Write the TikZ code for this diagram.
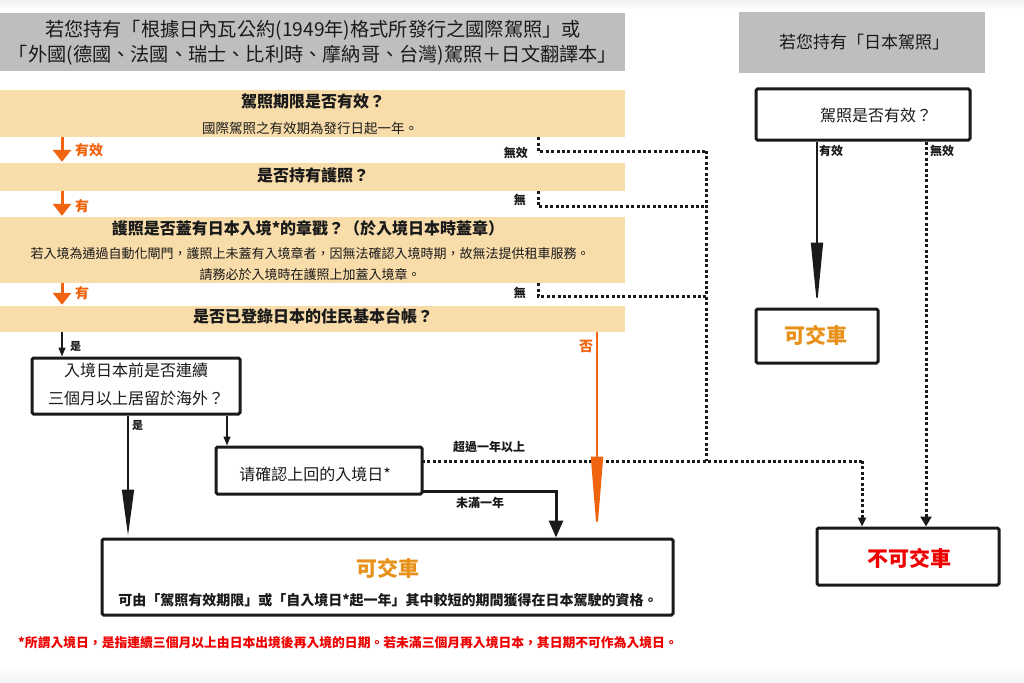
\documentclass[tikz,border=0pt]{standalone}
\usepackage{fontspec}
\setmainfont{Noto Sans CJK TC}
\usetikzlibrary{arrows.meta,calc}
\definecolor{hdr}{HTML}{BEBEBE}
\definecolor{beige}{HTML}{F8DCAA}
\definecolor{orarr}{HTML}{F0640F}
\definecolor{gold}{HTML}{E8911A}
\definecolor{nored}{HTML}{EE0000}
\definecolor{ink}{HTML}{1A1A1A}
\begin{document}
\begin{tikzpicture}[x=1pt,y=-1pt,
  hdrbox/.style={fill=hdr, draw=none, inner sep=0pt},
  band/.style={fill=beige, draw=none, inner sep=0pt, minimum width=625pt},
  box/.style={draw=ink, line width=3pt, rounded corners=1.5pt, fill=white, inner sep=0pt},
  txt/.style={inner sep=0pt, align=center, text=ink},
  ttl/.style={txt, font=\fontsize{16}{20}\selectfont\bfseries},
  sub/.style={txt, font=\fontsize{13}{16}\selectfont},
  lbl/.style={inner sep=0pt, text=ink, font=\fontsize{12}{14}\selectfont\bfseries},
  olbl/.style={inner sep=0pt, text=orarr, font=\fontsize{14}{16}\selectfont\bfseries},
  dots/.style={draw=ink, line width=3pt, dash pattern=on 3pt off 2.4pt},
  orarrow/.style={draw=orarr, line width=3pt, -{Triangle[length=12pt,width=18pt]}},
  thinarrow/.style={draw=ink, line width=1.3pt, -{Triangle[length=9pt,width=7pt]}},
]
\useasboundingbox (0,0) rectangle (1024,682);
\fill[white] (0,0) rectangle (1024,682);
\shade[top color=black!5, bottom color=white] (0,0) rectangle (1024,10);
\shade[top color=white, bottom color=black!5] (0,668) rectangle (1024,682);

% ---- headers
\node[hdrbox, minimum width=625pt, minimum height=58pt] (h1) at (312.5,42) {};
\node[txt, font=\fontsize{19.2}{25}\selectfont] (h1t) at (313,42.5)
  {若您持有「根據日內瓦公約(1949年)格式所發行之國際駕照」或\\「外國(德國、法國、瑞士、比利時、摩納哥、台灣)駕照＋日文翻譯本」};
\node[hdrbox, minimum width=246pt, minimum height=61pt] (h2) at (862,42.5) {};
\node[txt, font=\fontsize{17}{20}\selectfont] (h2t) at (864,42) {若您持有「日本駕照」};

% ---- bands
\node[band, minimum height=47pt] (b1) at (312.5,113.5) {};
\node[ttl] (b1t) at (313,101) {駕照期限是否有效？};
\node[sub, font=\fontsize{13.5}{16}\selectfont] (b1s) at (310,128) {國際駕照之有效期為發行日起一年。};
\node[band, minimum height=28pt] (b2) at (312.5,177) {};
\node[ttl] (b2t) at (313,175) {是否持有護照？};
\node[band, minimum height=66pt] (b3) at (312.5,250) {};
\node[ttl] (b3t) at (308,228) {護照是否蓋有日本入境*的章戳？（於入境日本時蓋章）};
\node[sub] (b3s1) at (310,253) {若入境為通過自動化閘門，護照上未蓋有入境章者，因無法確認入境時期，故無法提供租車服務。};
\node[sub] (b3s2) at (310,275) {請務必於入境時在護照上加蓋入境章。};
\node[band, minimum height=26pt] (b4) at (312.5,319) {};
\node[ttl] (b4t) at (313,316) {是否已登錄日本的住民基本台帳？};

% ---- boxes
\node[box, minimum width=208pt, minimum height=56pt] (q1) at (136,386) {};
\node[txt, font=\fontsize{16}{28}\selectfont] (q1t) at (136,384) {入境日本前是否連續\\三個月以上居留於海外？};
\node[box, minimum width=206pt, minimum height=47pt] (q2) at (319,470.5) {};
\node[txt, font=\fontsize{16}{20}\selectfont] (q2t) at (315,474) {请確認上回的入境日*};
\node[box, minimum width=571pt, minimum height=76pt] (ok1) at (387.5,577) {};
\node[txt, text=gold, font=\fontsize{21}{24}\selectfont\bfseries] (ok1t) at (388,568) {可交車};
\node[txt, font=\fontsize{14}{16}\selectfont\bfseries] (ok1s) at (388,600) {可由「駕照有效期限」或「自入境日*起一年」其中較短的期間獲得在日本駕駛的資格。};

\node[box, minimum width=214pt, minimum height=51pt] (r1) at (863,114.5) {};
\node[txt, font=\fontsize{16}{20}\selectfont] (r1t) at (876,115) {駕照是否有效？};
\node[box, minimum width=122pt, minimum height=54pt] (ok2) at (817,336) {};
\node[txt, text=gold, font=\fontsize{21}{24}\selectfont\bfseries] (ok2t) at (816,335) {可交車};
\node[box, minimum width=182pt, minimum height=57pt] (ng) at (908,556.5) {};
\node[txt, text=nored, font=\fontsize{21}{24}\selectfont\bfseries] (ngt) at (909,558) {不可交車};

% ---- helper coordinates
\coordinate (xo) at (62,0);
\coordinate (xd) at (538,0);
\coordinate (xs) at (128,0);
\coordinate (xq) at (227,0);
\coordinate (xk) at (556,0);
\coordinate (xn) at (597,0);
\coordinate (xg) at (862,0);
\coordinate (xr1) at (817,0);
\coordinate (xr2) at (926,0);
\coordinate (d1) at (538,151);
\coordinate (d2) at (538,206);
\coordinate (d3) at (538,296);
\coordinate (v1) at (706,151);
\coordinate (v2) at (706,206);
\coordinate (v3) at (706,296);
\coordinate (v4) at (706,461);
\coordinate (e1) at (422,461);
\coordinate (e2) at (862,461);
\coordinate (k1) at (422,491);
\coordinate (k2) at (556,491);

% ---- orange flow arrows
\draw[orarrow] (b1.south -| xo) -- ([yshift=1pt]b2.north -| xo);
\draw[orarrow] (b2.south -| xo) -- ([yshift=1pt]b3.north -| xo);
\draw[orarrow] (b3.south -| xo) -- ([yshift=1pt]b4.north -| xo);
\node[olbl, anchor=west] (l1) at (75,150) {有效};
\node[olbl, anchor=west] (l2) at (75,206) {有};
\node[olbl, anchor=west] (l3) at (75,293) {有};

% ---- dotted "no" paths
\draw[dots] (b1.south -| xd) -- (d1) -- (v1);
\draw[dots] (b2.south -| xd) -- (d2) -- (v2);
\draw[dots] (b3.south -| xd) -- (d3) -- (v3);
\draw[dots] (v1) -- (v4);
\node[lbl, anchor=east] (n1) at (528,153) {無效};
\node[lbl, anchor=east] (n2) at (526,200) {無};
\node[lbl, anchor=east] (n3) at (526,293) {無};

% ---- lower left flow
\draw[thinarrow] (b4.south -| xo) -- (q1.north -| xo);
\node[lbl, anchor=west, font=\fontsize{11}{13}\selectfont\bfseries] (y1) at (70,346) {是};
\draw[draw=ink, line width=1.5pt, -{Triangle[length=46pt,width=12pt]}] (q1.south -| xs) -- ([yshift=2pt]ok1.north -| xs);
\node[lbl, anchor=west, font=\fontsize{11}{13}\selectfont\bfseries] (y2) at (132,425) {是};
\draw[thinarrow] (q1.south -| xq) -- (q2.north -| xq);

\draw[draw=ink, line width=3pt, -{Triangle[length=17pt,width=14pt]}] (k1) -- (k2) -- (ok1.north -| xk);
\node[lbl] (m1) at (480,503) {未滿一年};
\draw[dots] (e1) -- (e2);
\draw[dots, -{Triangle[length=9pt,width=8pt]}] (e2) -- (ng.north -| xg);
\node[lbl] (m2) at (489,447) {超過一年以上};

\draw[draw=orarr, line width=2pt, -{Triangle[length=78pt,width=12pt]}] (b4.south -| xn) -- ([yshift=3pt]ok1.north -| xn);
\node[olbl] (nn) at (586,346) {否};

% ---- right side flow
\draw[draw=ink, line width=1.5pt, -{Triangle[length=63pt,width=12pt]}] (r1.south -| xr1) -- ([yshift=2pt]ok2.north -| xr1);
\node[lbl, anchor=west] (rl1) at (819,151) {有效};
\draw[dots, -{Triangle[length=10pt,width=11pt]}] (r1.south -| xr2) -- (ng.north -| xr2);
\node[lbl, anchor=west] (rl2) at (930,151) {無效};

% ---- footnote
\node[inner sep=0pt, anchor=west, text=nored, font=\fontsize{12.8}{15}\selectfont\bfseries] (fn) at (18,643)
  {*所謂入境日，是指連續三個月以上由日本出境後再入境的日期。若未滿三個月再入境日本，其日期不可作為入境日。};
\end{tikzpicture}
\end{document}
